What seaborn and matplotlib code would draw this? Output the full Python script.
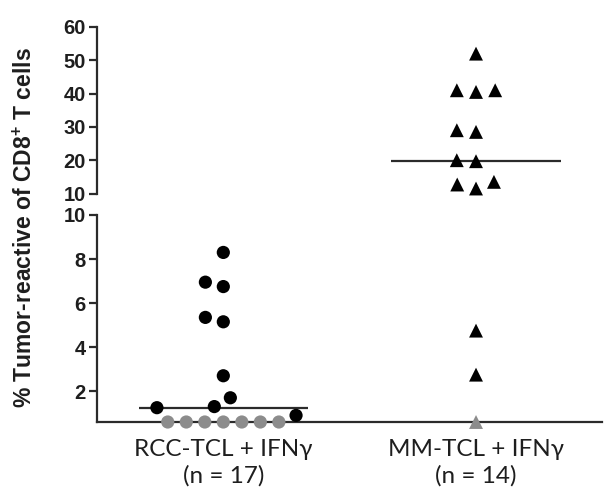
"""Scatter dot plot with broken y axis: tumor-reactive CD8+ T cells per TCL group."""
import matplotlib
matplotlib.use("Agg")
import matplotlib.pyplot as plt
import numpy as np
import pandas as pd
import seaborn as sns

CATEGORIES = ["RCC-TCL + IFNγ\n(n = 17)", "MM-TCL + IFNγ\n(n = 14)"]
RCC_VALUES = [8.3, 6.95, 6.75, 5.35, 5.15, 2.7, 1.7, 1.3, 1.25, 0.9,
              0, 0, 0, 0, 0, 0, 0]
MM_VALUES = [52, 41, 40.5, 41, 29, 28.5, 19.7, 20, 12.7, 11.5, 13.5,
             4.75, 2.75, 0]
UPPER_TICKS = [10, 20, 30, 40, 50, 60]
LOWER_TICKS = [2, 4, 6, 8, 10]
BREAK = 10
LOW_MIN = 0.6

sns.set_style("ticks")
plt.rcParams["font.family"] = ["Liberation Sans", "DejaVu Sans"]
plt.rcParams["mathtext.fontset"] = "custom"
plt.rcParams["mathtext.bf"] = "Liberation Sans:bold"
plt.rcParams["mathtext.rm"] = "Liberation Sans:bold"

df = pd.concat([
    pd.DataFrame({"group": CATEGORIES[0], "value": RCC_VALUES, "marker": "o"}),
    pd.DataFrame({"group": CATEGORIES[1], "value": MM_VALUES, "marker": "^"}),
], ignore_index=True)
df["status"] = np.where(df["value"] > 0, "pos", "zero")
# values at zero sit on the bottom axis line
df["plot_value"] = df["value"].clip(lower=LOW_MIN)

palette = {"pos": "black", "zero": "#8c8c8c"}
INK = "#2b2b2b"
TXT = "#1e1e1e"

fig = plt.figure(figsize=(6.06, 5.0), dpi=100)
ax_up = fig.add_axes([0.160, 0.613, 0.834, 0.333])
ax_lo = fig.add_axes([0.160, 0.156, 0.834, 0.414])

for ax, part in [(ax_up, df[df["value"] >= BREAK]), (ax_lo, df[df["value"] < BREAK])]:
    for mk, sub in part.groupby("marker"):
        sns.swarmplot(data=sub, x="group", y="plot_value", hue="status",
                      order=CATEGORIES, palette=palette, marker=mk,
                      size=9.5 if mk == "o" else 10, linewidth=3.2,
                      edgecolor="none", legend=False, clip_on=False,
                      zorder=4, ax=ax)

# median bars
for i, cat in enumerate(CATEGORIES):
    med = df.loc[df["group"] == cat, "value"].median()
    ax = ax_up if med >= BREAK else ax_lo
    ax.hlines(med, i - 0.335, i + 0.335, color=INK, lw=1.6, zorder=3)

for ax in (ax_up, ax_lo):
    ax.set_xlim(-0.5, 1.5)
    ax.set_xlabel("")
    ax.set_ylabel("")
    sns.despine(ax=ax)
    for sp in ("left", "bottom"):
        ax.spines[sp].set_linewidth(1.6)
        ax.spines[sp].set_color(INK)
    ax.tick_params(axis="y", length=6, width=1.6, color=INK, pad=2,
                   labelsize=14.5)

ax_up.set_ylim(BREAK, 60)
ax_up.set_yticks(UPPER_TICKS)
ax_up.set_yticklabels([str(t) for t in UPPER_TICKS], fontweight="bold",
                      color=TXT)
ax_up.spines["bottom"].set_visible(False)
ax_up.set_xticks([])

ax_lo.set_ylim(LOW_MIN, BREAK)
ax_lo.set_yticks(LOWER_TICKS)
ax_lo.set_yticklabels([str(t) for t in LOWER_TICKS], fontweight="bold",
                      color=TXT)
ax_lo.spines["left"].set_bounds(LOW_MIN, BREAK)
ax_lo.set_xticks(range(len(CATEGORIES)))
ax_lo.set_xticklabels(CATEGORIES, family=["Lato", "DejaVu Sans"],
                      fontsize=17.5, linespacing=1.3, color=TXT)
ax_lo.tick_params(axis="x", length=0, pad=12)

fig.text(0.041, 0.544, r"% Tumor-reactive of CD8$^{+}$ T cells",
         rotation=90, ha="center", va="center", fontsize=16.5,
         fontweight="bold", color=TXT)

fig.savefig("out.png", dpi=100)
